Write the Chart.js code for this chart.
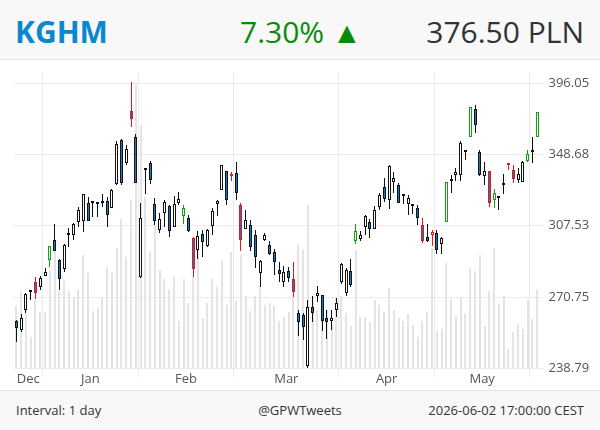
<!DOCTYPE html>
<html>
<head>
<meta charset="utf-8">
<script src="https://cdn.jsdelivr.net/npm/chart.js@4.4.1/dist/chart.umd.min.js"></script>
<style>
  body { margin: 0; width: 600px; height: 430px; overflow: hidden; background: #fff; font-family: 'Open Sans', sans-serif; }
  .head { position: relative; height: 59px; background: #f8f8f8; border-bottom: 1px solid #e6e6e6; }
  .head span { position: absolute; top: 12px; font-size: 30px; line-height: 40px; white-space: nowrap; }
  .ticker { left: 15px; color: #0b87cf; font-weight: 700; }
  .change { left: 240px; color: #0a8a0a; }
  .price { right: 16px; color: #333; }
  .chart { height: 330px; }
  .foot { position: relative; height: 39px; background: #f8f8f8; border-top: 1px solid #e6e6e6; font-size: 13px; color: #333; }
  .foot span { position: absolute; top: 10px; line-height: 18px; white-space: nowrap; }
</style>
</head>
<body>
<div class="head">
  <span class="ticker">KGHM</span>
  <span class="change">7.30% ▲</span>
  <span class="price">376.50 PLN</span>
</div>
<div class="chart"><canvas id="kghm" width="600" height="330"></canvas></div>
<div class="foot">
  <span style="left:16px">Interval: 1 day</span>
  <span style="left:0;right:0;text-align:center">@GPWTweets</span>
  <span style="right:16px">2026-06-02 17:00:00 CEST</span>
</div>
<script>
// daily OHLC + volume (thousand shares), 2025-12-18 .. 2026-06-02
const firstDay = "2025-12-18";
const lastDay = "2026-06-02";
const holidays = ["2025-12-24", "2025-12-25", "2025-12-26", "2025-12-31", "2026-01-01",
  "2026-01-06", "2026-04-03", "2026-04-06", "2026-05-01"];
const monthNames = ["Jan", "Feb", "Mar", "Apr", "May", "Jun", "Jul", "Aug", "Sep", "Oct", "Nov", "Dec"];
const yTicks = [238.79, 270.75, 307.53, 348.68, 396.05];

const open = [259.5, 255.4, 264.6, 273.4, 278.2, 275.5, 281.4, 289.5, 299.5, 289.5,
  284.9, 302.2, 302.6, 309.4, 309.8, 320.2, 319.8, 319.9, 319.8, 321.1,
  317.4, 331.2, 358.0, 343.7, 377.1, 360.1, 280.7, 339.2, 343.7, 319.7,
  304.9, 314.6, 318.3, 306.7, 320.0, 312.7, 311.8, 301.0, 294.3, 303.1,
  296.5, 307.1, 319.7, 327.7, 338.5, 335.8, 337.7, 319.0, 305.8, 308.0,
  302.6, 282.9, 299.5, 297.3, 293.4, 284.1, 278.2, 283.6, 279.5, 263.5,
  262.4, 239.8, 265.9, 271.4, 271.7, 260.8, 259.6, 264.6, 278.2, 272.6,
  283.7, 299.0, 300.1, 306.7, 309.4, 305.8, 317.7, 329.2, 321.9, 332.1,
  330.6, 325.0, 319.6, 318.1, 317.4, 307.6, 301.3, 302.6, 303.7, 297.8,
  309.4, 332.9, 336.5, 336.5, 350.5, 360.1, 378.2, 350.2, 335.6, 338.5,
  321.9, 322.8, 330.4, 342.3, 339.1, 333.7, 332.1, 345.1, 350.4, 360.1];
const high = [259.9, 262.9, 272.6, 274.5, 280.9, 281.2, 285.2, 296.6, 308.5, 289.6,
  297.4, 306.1, 308.7, 317.7, 325.5, 323.4, 320.6, 320.0, 325.0, 323.4,
  327.9, 357.6, 358.7, 354.9, 396.5, 361.9, 320.0, 340.5, 345.1, 322.9,
  314.6, 321.5, 318.7, 324.0, 326.3, 318.7, 313.1, 301.2, 304.4, 304.9,
  305.5, 317.2, 321.6, 342.3, 338.7, 338.1, 344.1, 320.0, 315.9, 310.3,
  304.9, 289.1, 303.7, 299.2, 295.2, 288.3, 286.2, 285.7, 288.3, 264.6,
  263.5, 269.4, 271.4, 276.3, 271.9, 264.6, 264.6, 270.2, 287.6, 285.2,
  289.6, 308.5, 304.4, 313.5, 311.3, 318.3, 325.9, 334.7, 342.1, 338.1,
  331.8, 325.4, 324.4, 319.6, 319.0, 311.6, 308.2, 304.9, 304.9, 301.1,
  332.2, 336.1, 340.5, 357.6, 351.8, 379.4, 380.9, 351.9, 344.5, 339.0,
  328.3, 324.0, 337.2, 343.1, 342.5, 340.5, 344.6, 351.9, 360.1, 376.5];
const low = [250.2, 254.4, 263.5, 269.2, 269.8, 274.2, 281.1, 285.7, 293.8, 274.2,
  283.2, 296.0, 299.9, 306.7, 304.0, 309.8, 312.2, 312.2, 317.7, 306.7,
  317.0, 330.2, 330.2, 342.1, 366.1, 331.5, 280.2, 325.4, 330.8, 307.6,
  303.7, 306.7, 301.3, 306.5, 318.7, 308.5, 303.8, 280.7, 290.0, 290.8,
  296.0, 302.6, 312.5, 327.5, 319.0, 333.1, 321.5, 293.8, 305.6, 293.9,
  285.4, 275.5, 299.0, 291.7, 281.9, 278.2, 275.5, 278.2, 270.9, 252.8,
  250.9, 238.9, 258.9, 268.7, 254.9, 251.6, 255.4, 261.2, 277.3, 271.4,
  275.5, 297.8, 299.0, 302.6, 301.0, 305.6, 315.9, 320.6, 316.8, 325.9,
  320.0, 319.6, 313.1, 314.0, 308.0, 298.1, 298.6, 296.8, 292.6, 292.6,
  309.3, 325.9, 333.1, 333.1, 345.7, 360.0, 362.3, 335.5, 330.2, 317.7,
  317.2, 315.9, 325.4, 339.1, 331.8, 331.8, 332.0, 344.5, 343.7, 360.0];
const close = [256.2, 260.8, 272.1, 273.7, 272.6, 280.4, 283.4, 296.4, 293.9, 279.9,
  297.3, 302.6, 308.5, 315.9, 325.4, 310.0, 320.0, 319.6, 320.1, 313.1,
  327.7, 355.5, 331.8, 352.4, 371.6, 331.8, 311.8, 339.5, 333.7, 309.8,
  310.9, 320.6, 304.4, 319.7, 322.1, 317.2, 304.5, 284.9, 301.9, 298.6,
  305.3, 315.3, 321.4, 342.1, 321.5, 335.6, 325.9, 299.5, 310.3, 296.0,
  290.6, 289.0, 302.6, 292.6, 288.0, 282.0, 283.2, 280.4, 273.3, 259.2,
  256.6, 265.9, 263.5, 272.6, 259.6, 259.2, 260.8, 267.9, 287.4, 284.4,
  276.9, 304.4, 302.6, 312.7, 305.4, 316.3, 324.8, 322.1, 341.5, 334.7,
  320.2, 323.8, 323.0, 318.3, 311.6, 299.0, 299.2, 304.0, 294.3, 301.0,
  332.1, 333.1, 338.1, 356.1, 351.7, 379.3, 367.6, 336.1, 338.5, 320.2,
  325.9, 323.0, 330.6, 342.1, 334.2, 336.7, 344.5, 349.2, 350.9, 376.5];
const volume = [623, 770, 737, 313, 680, 557, 557, 970, 1170, 773,
  873, 770, 697, 780, 1137, 957, 570, 597, 703, 1013,
  957, 1207, 1497, 1113, 1680, 2860, 2437, 1713, 1173, 1430,
  987, 897, 787, 913, 473, 897, 647, 913, 1197, 497,
  647, 897, 817, 1077, 627, 1167, 667, 1130, 717, 567,
  717, 813, 627, 653, 620, 473, 510, 557, 725, 1230,
  1188, 1637, 722, 580, 715, 580, 430, 697, 722, 555,
  422, 1180, 513, 513, 463, 677, 630, 563, 807, 580,
  497, 473, 542, 427, 307, 473, 563, 1203, 373, 387,
  1055, 687, 517, 705, 538, 1007, 973, 1137, 417, 773,
  1205, 643, 722, 187, 363, 437, 387, 677, 487, 787];
// days flagged by the source's alert (red = sell side, green = buy side)
const alertDown = [4, 24, 37, 45, 47, 58, 85, 87, 99, 103, 104];
const alertUp = [7, 35, 71, 90, 95, 100, 107, 109];

function tradingDays(from, to, skip) {
  const out = [];
  const end = new Date(to + "T00:00:00Z");
  for (let d = new Date(from + "T00:00:00Z"); d <= end; d.setUTCDate(d.getUTCDate() + 1)) {
    const iso = d.toISOString().slice(0, 10);
    const wd = d.getUTCDay();
    if (wd !== 0 && wd !== 6 && !skip.includes(iso)) out.push(iso);
  }
  return out;
}

const days = tradingDays(firstDay, lastDay, holidays);

// month labels sit mid-month, grid lines on month boundaries
const monthTicks = [];
let start = 0;
for (let i = 1; i <= days.length; i++) {
  if (i === days.length || days[i].slice(0, 7) !== days[start].slice(0, 7)) {
    if (i - start >= 5) {
      monthTicks.push({ value: (start + i - 1) / 2, text: monthNames[+days[start].slice(5, 7) - 1] });
    }
    if (i < days.length) monthTicks.push({ value: i - 0.5, text: "", edge: true });
    start = i;
  }
}

const BLUE = "#0f7cc6";
const RED = "#e8151b";
const GREEN = "#12a012";
const GRID = "#ebebeb";

function edgeColor(i) {
  if (alertDown.includes(i)) return RED;
  if (alertUp.includes(i)) return GREEN;
  return "#111";
}

function bodyColor(i) {
  return close[i] < open[i] ? BLUE : "#ffffff";
}

// keep thin bars on whole pixels so the candles stay crisp
const snapBars = {
  id: "snapBars",
  afterDatasetsUpdate(chart) {
    chart.data.datasets.forEach((ds, di) => {
      const even = ds.barThickness % 2 === 0;
      chart.getDatasetMeta(di).data.forEach(el => {
        el.x = even ? Math.round(el.x) : Math.floor(el.x) + 0.5;
        el.y = Math.round(el.y);
        el.base = Math.round(el.base);
      });
    });
  }
};

Chart.defaults.font.family = "'Open Sans', sans-serif";

new Chart(document.getElementById("kghm"), {
  type: "bar",
  data: {
    labels: days,
    datasets: [
      {
        label: "Body",
        data: open.map((o, i) => [o, close[i]]),
        order: 1,
        grouped: false,
        barThickness: 3,
        minBarLength: 2,
        borderWidth: 1,
        borderSkipped: false,
        inflateAmount: 0,
        backgroundColor: ctx => bodyColor(ctx.dataIndex),
        borderColor: ctx => edgeColor(ctx.dataIndex)
      },
      {
        label: "Wick",
        data: low.map((l, i) => [l, high[i]]),
        order: 2,
        grouped: false,
        barThickness: 1,
        borderWidth: 0,
        inflateAmount: 0,
        backgroundColor: ctx => edgeColor(ctx.dataIndex)
      },
      {
        label: "Volume",
        data: volume,
        yAxisID: "yv",
        order: 3,
        grouped: false,
        barThickness: 2,
        borderWidth: 0,
        inflateAmount: 0,
        backgroundColor: "#e4e4e4"
      }
    ]
  },
  options: {
    responsive: false,
    animation: false,
    events: [],
    layout: { padding: { left: 14, right: 0, top: 12, bottom: 0 } },
    plugins: {
      legend: { display: false },
      tooltip: { enabled: false }
    },
    scales: {
      x: { display: false, offset: true },
      xm: {
        type: "linear",
        position: "bottom",
        offset: false,
        bounds: "data",
        min: -0.5,
        max: days.length - 0.5,
        afterBuildTicks: s => { s.ticks = monthTicks.map(t => ({ value: t.value, text: t.text, edge: t.edge })); },
        afterFit: s => { s.height = 22; },
        border: { display: false },
        grid: {
          offset: false,
          color: c => (c.tick && c.tick.edge ? GRID : "rgba(0,0,0,0)"),
          tickLength: 9
        },
        ticks: {
          autoSkip: false,
          maxRotation: 0,
          padding: -6,
          color: "#555",
          font: { size: 13 },
          callback: (v, i, t) => t[i].text
        }
      },
      y: {
        type: "logarithmic",
        position: "right",
        min: 238.79,
        max: 403.3,
        afterBuildTicks: s => { s.ticks = yTicks.map(v => ({ value: v })); },
        afterFit: s => { s.width = 60.5; },
        border: { display: false },
        grid: { color: GRID, tickLength: 4 },
        ticks: {
          padding: 5,
          color: "#555",
          font: { size: 13 },
          callback: v => Number(v).toFixed(2)
        }
      },
      yv: { display: false, min: 0, max: 2960 }
    }
  },
  plugins: [snapBars]
});
</script>
</body>
</html>
